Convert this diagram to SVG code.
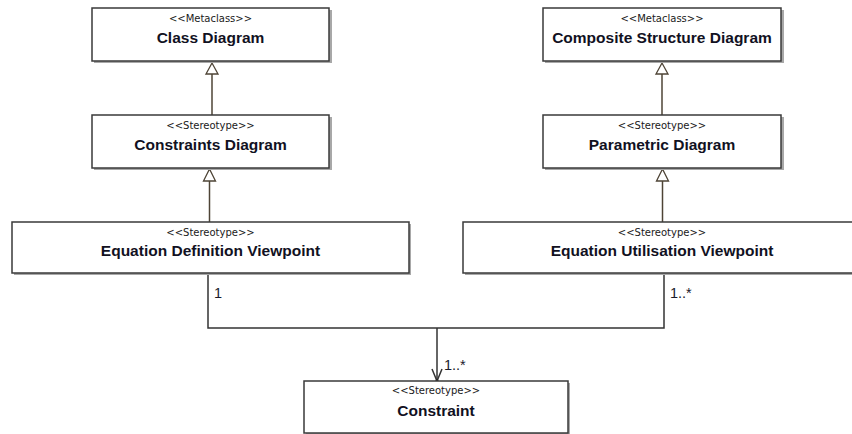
<svg xmlns="http://www.w3.org/2000/svg" width="852" height="434" viewBox="0 0 852 434">
  <style>
    .shadow { fill: #a8a8a8; }
    .box { fill: #ffffff; stroke: #3a3a3a; stroke-width: 1.5; }
    .stereo { font-family: "DejaVu Sans", Verdana, sans-serif; font-size: 10px; fill: #1a1a1a; text-anchor: middle; }
    .name { font-family: "Liberation Sans", Arial, sans-serif; font-size: 15.5px; font-weight: bold; fill: #111122; text-anchor: middle; }
    .gen { stroke: #4e4436; stroke-width: 1.5; fill: none; }
    .tri { fill: #ffffff; stroke: #4e4436; stroke-width: 1.3; }
    .assoc { stroke: #333333; stroke-width: 1.5; fill: none; }
    .mult { font-family: "Liberation Sans", Arial, sans-serif; font-size: 14.5px; fill: #1a1a2a; }
  </style>

  <rect width="852" height="434" fill="#ffffff"/>

  <!-- connectors -->
  <g id="connectors">
    <!-- generalizations: hollow triangle at the parent end -->
    <line class="gen" x1="212" y1="74" x2="212" y2="115"/>
    <polygon class="tri" points="212,63 206,74 218,74"/>
    <line class="gen" x1="209.5" y1="181" x2="209.5" y2="222"/>
    <polygon class="tri" points="209.5,169 203.5,181 215.5,181"/>
    <line class="gen" x1="662" y1="74" x2="662" y2="115"/>
    <polygon class="tri" points="662,63 656,74 668,74"/>
    <line class="gen" x1="662.5" y1="181" x2="662.5" y2="222"/>
    <polygon class="tri" points="662.5,169 656.5,181 668.5,181"/>

    <!-- association to Constraint -->
    <polyline class="assoc" points="208,273 208,328 664,328 664,273"/>
    <line class="assoc" x1="437" y1="328" x2="437" y2="381"/>
    <polyline class="assoc" points="432,369 437,381 442,369"/>
    <circle cx="437" cy="380.5" r="1.5" fill="#222"/>

    <text class="mult" x="214" y="298">1</text>
    <text class="mult" x="670" y="298">1..*</text>
    <text class="mult" x="444" y="370">1..*</text>
  </g>

  <!-- nodes -->
  <g id="class-diagram">
    <rect class="shadow" x="94" y="10" width="238" height="53"/>
    <rect class="box" x="92" y="8" width="237" height="53"/>
    <text class="stereo" x="210.5" y="21.5">&lt;&lt;Metaclass&gt;&gt;</text>
    <text class="name" x="210.5" y="42.5">Class Diagram</text>
  </g>

  <g id="constraints-diagram">
    <rect class="shadow" x="94" y="117" width="238" height="53"/>
    <rect class="box" x="92" y="115" width="237" height="53"/>
    <text class="stereo" x="210.5" y="128.5">&lt;&lt;Stereotype&gt;&gt;</text>
    <text class="name" x="210.5" y="149.5">Constraints Diagram</text>
  </g>

  <g id="equation-definition-viewpoint">
    <rect class="shadow" x="14" y="224" width="397" height="51"/>
    <rect class="box" x="12" y="222" width="397" height="51"/>
    <text class="stereo" x="210.5" y="235.5">&lt;&lt;Stereotype&gt;&gt;</text>
    <text class="name" x="210.5" y="256">Equation Definition Viewpoint</text>
  </g>

  <g id="composite-structure-diagram">
    <rect class="shadow" x="545" y="10" width="239" height="53"/>
    <rect class="box" x="543" y="8" width="238" height="53"/>
    <text class="stereo" x="662" y="21.5">&lt;&lt;Metaclass&gt;&gt;</text>
    <text class="name" x="662" y="42.5">Composite Structure Diagram</text>
  </g>

  <g id="parametric-diagram">
    <rect class="shadow" x="545" y="117" width="239" height="53"/>
    <rect class="box" x="543" y="115" width="238" height="53"/>
    <text class="stereo" x="662" y="128.5">&lt;&lt;Stereotype&gt;&gt;</text>
    <text class="name" x="662" y="149.5">Parametric Diagram</text>
  </g>

  <g id="equation-utilisation-viewpoint">
    <rect class="shadow" x="465" y="224" width="398" height="51"/>
    <rect class="box" x="463" y="222" width="398" height="51"/>
    <text class="stereo" x="662" y="235.5">&lt;&lt;Stereotype&gt;&gt;</text>
    <text class="name" x="662" y="256">Equation Utilisation Viewpoint</text>
  </g>

  <g id="constraint">
    <rect class="shadow" x="306" y="383" width="264" height="52"/>
    <rect class="box" x="304" y="381" width="264" height="52"/>
    <text class="stereo" x="436" y="394">&lt;&lt;Stereotype&gt;&gt;</text>
    <text class="name" x="436" y="415.5">Constraint</text>
  </g>
</svg>
